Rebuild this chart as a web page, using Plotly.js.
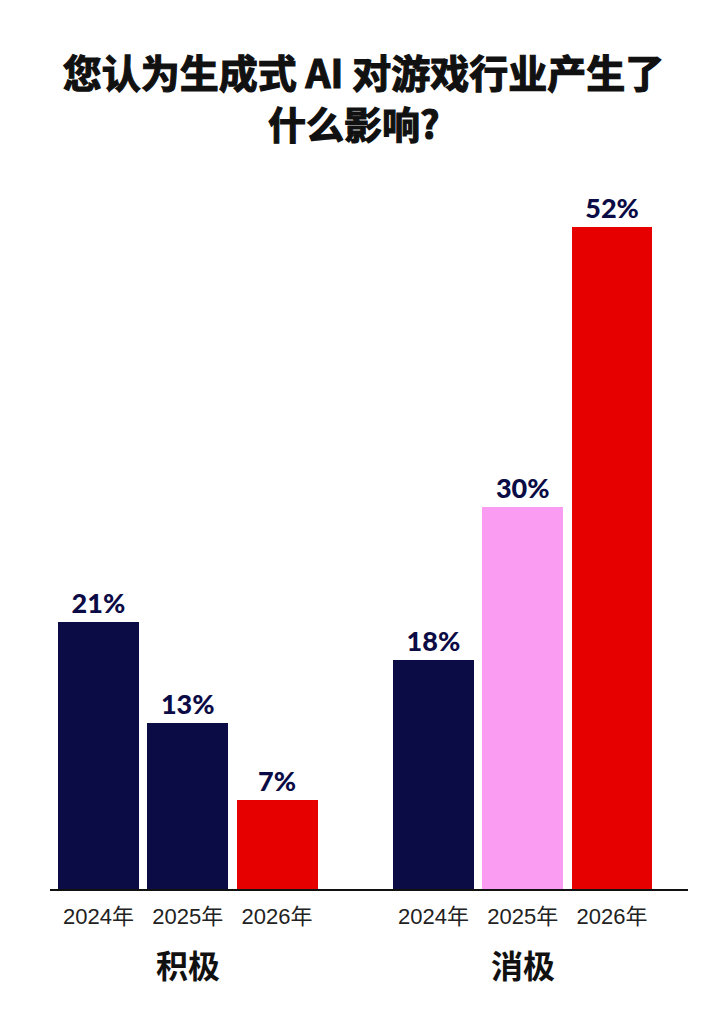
<!DOCTYPE html>
<html>
<head>
<meta charset="utf-8">
<script src="https://cdn.plot.ly/plotly-3.0.1.min.js"></script>
<style>
html,body{margin:0;padding:0;background:#fff;}
#chart{width:718px;height:1024px;}
</style>
</head>
<body>
<div id="chart"></div>
<script>
// ---- data ----
const titleLine1 = "您认为生成式 AI 对游戏行业产生了";
const titleLine2 = "什么影响?";
const groups = ["积极", "消极"];
const years = ["2024年", "2025年", "2026年"];
const positiveValues = [21, 13, 7];
const negativeValues = [18, 30, 52];
const positiveColors = ["#0b0b45", "#0b0b45", "#e60000"];
const negativeColors = ["#0b0b45", "#f99cf2", "#e60000"];

// ---- layout helpers ----
const groupStep = 3.75; // distance between group starts, in bar slots
const seriesValues = [positiveValues, negativeValues];
const seriesColors = [positiveColors, negativeColors];
const cjk = '"Noto Sans CJK SC", "Noto Sans", sans-serif';
const labelFont = 'Lato, "DejaVu Sans", sans-serif';
const W = 718, H = 1024, mT = 176, mB = 135, mL = 50, mR = 30;

const traces = groups.map((g, gi) => ({
  type: "bar",
  x: years.map((y, i) => gi * groupStep + i),
  y: seriesValues[gi],
  width: 0.905,
  marker: { color: seriesColors[gi], line: { width: 0 } },
  text: seriesValues[gi].map(v => v + "%"),
  textposition: "outside",
  cliponaxis: false,
  textfont: { family: labelFont, size: 27, color: "#0b0b45", weight: 900 },
  hoverinfo: "skip",
  showlegend: false
}));

const tickvals = [];
const ticktext = [];
groups.forEach((g, gi) => years.forEach((y, i) => { tickvals.push(gi * groupStep + i); ticktext.push(y); }));

const annotations = groups.map((g, gi) => ({
  text: "<b>" + g + "</b>",
  x: gi * groupStep + 1,
  xref: "x",
  y: -0.105,
  yref: "paper",
  yanchor: "middle",
  showarrow: false,
  font: { family: cjk, size: 32, color: "#111", weight: 900 }
}));

annotations.push({
  text: "<b>" + titleLine2 + "</b>",
  x: (354 - mL) / (W - mL - mR), xref: "paper", xanchor: "center",
  y: ((H - 122) - mB) / (H - mT - mB), yref: "paper", yanchor: "middle",
  showarrow: false,
  font: { family: cjk, size: 38, color: "#111", weight: 900 }
});

const layout = {
  width: W,
  height: H,
  paper_bgcolor: "#ffffff",
  plot_bgcolor: "#ffffff",
  margin: { l: mL, r: mR, t: mT, b: mB },
  title: {
    text: "<b>" + titleLine1 + "</b>",
    font: { family: cjk, size: 39, color: "#111", weight: 900 },
    x: 363.5 / W, xref: "container", xanchor: "center",
    y: 1 - 74 / H, yref: "container", yanchor: "middle"
  },
  xaxis: {
    range: [-0.542, 6.6],
    tickvals: tickvals,
    ticktext: ticktext,
    ticks: "",
    ticklabelstandoff: 7,
    showline: true,
    linecolor: "#111",
    linewidth: 1.5,
    showgrid: false,
    zeroline: false,
    tickfont: { family: '"Liberation Sans", "Noto Sans CJK SC", sans-serif', size: 22, color: "#222" },
    fixedrange: true
  },
  yaxis: {
    range: [0, 56],
    visible: false,
    showgrid: false,
    zeroline: false,
    fixedrange: true
  },
  annotations: annotations,
  bargap: 0
};

Plotly.newPlot("chart", traces, layout, { displayModeBar: false, staticPlot: true }).then(gd => {
  // heavier strokes for the title, like the reference's black weight
  const heavy = [gd.querySelector(".gtitle")];
  const anns = gd.querySelectorAll(".annotation-text");
  heavy.push(anns[anns.length - 1]);
  heavy.forEach(el => {
    if (!el) return;
    el.style.stroke = "#111";
    el.style.strokeWidth = "1.2px";
    el.style.paintOrder = "stroke";
  });
});
</script>
</body>
</html>
